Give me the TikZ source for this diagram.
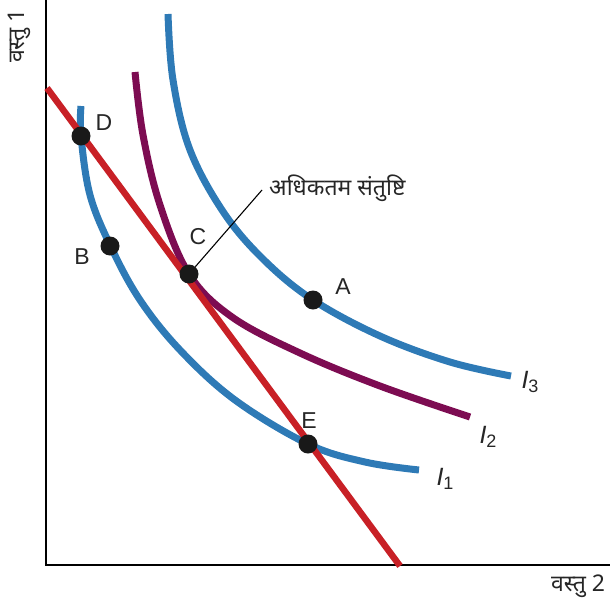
\documentclass[tikz,border=0pt]{standalone}
\usepackage{fontspec}
\setmainfont{Liberation Sans}
\newfontfamily\deva[Script=Devanagari]{Noto Sans}
\definecolor{icblue}{RGB}{46,122,182}
\definecolor{icpurple}{RGB}{125,12,82}
\definecolor{icred}{RGB}{200,32,38}
\begin{document}
\begin{tikzpicture}[x=1pt,y=-1pt,
  axis/.style={line width=2.6pt,black},
  curveblue/.style={line width=7pt,icblue},
  curvepurple/.style={line width=7pt,icpurple},
  budget/.style={line width=6.5pt,icred},
  dot/.style={circle,fill=black!90,inner sep=0pt,minimum size=19pt},
  lbl/.style={font=\fontsize{23}{25}\selectfont,inner sep=1pt,text=black!85},
  ilbl/.style={font=\fontsize{25}{27}\selectfont,inner sep=1pt,text=black!85},
  devalbl/.style={font=\deva\fontsize{23}{26}\selectfont,inner sep=1pt,text=black!85}]
\useasboundingbox (0,0) rectangle (610,605);
% axes
\coordinate (O) at (46,565);
\coordinate (Ytop) at (46,0);
\coordinate (Xend) at (610,565);
\draw[axis] (Ytop) -- (O) -- (Xend);
\node[devalbl,rotate=90] (ylab) at (19,36) {वस्तु 1};
\node[devalbl] (xlab) at (578,586) {वस्तु 2};
% indifference curves
\draw[curveblue,line cap=butt] plot[smooth,tension=0.6] coordinates
  {(168,14) (173,80) (190,150) (224,213) (264,260) (313,300) (380,336) (450,362) (511,376)};
\draw[curvepurple] plot[smooth,tension=0.6] coordinates
  {(135,72) (143,135) (160,205) (189,274) (232,317) (300,353) (380,386) (470,417)};
\draw[curveblue] plot[smooth,tension=0.6] coordinates
  {(81,106) (81,136) (90,195) (111,247) (140,300) (180,350) (235,400) (308,444) (365,462) (419,470)};
% budget line
\coordinate (B1) at (47,88);
\coordinate (B2) at (400,566);
\draw[budget] (B1) -- (B2);
% points
\node[dot] (D) at (81,136) {};
\node[dot] (B) at (110,246) {};
\node[dot] (C) at (189,274) {};
\node[dot] (A) at (313,300) {};
\node[dot] (E) at (308,444) {};
% point labels
\node[lbl] (Dl) at (104,123) {D};
\node[lbl] (Bl) at (82,257) {B};
\node[lbl] (Cl) at (198,237) {C};
\node[lbl] (Al) at (343,287) {A};
\node[lbl] (El) at (309,421) {E};
% curve labels
\node[ilbl] (I3) at (530,382) {\textit{I}\raisebox{-0.35ex}{\fontsize{18}{19}\selectfont 3}};
\node[ilbl] (I2) at (488,437) {\textit{I}\raisebox{-0.35ex}{\fontsize{18}{19}\selectfont 2}};
\node[ilbl] (I1) at (445,479) {\textit{I}\raisebox{-0.35ex}{\fontsize{18}{19}\selectfont 1}};
% annotation
\coordinate (ann) at (262,190);
\draw[line width=1.1pt] (C) -- (ann);
\node[devalbl,anchor=west] (annt) at (268,188) {अधिकतम संतुष्टि};
\end{tikzpicture}
\end{document}
